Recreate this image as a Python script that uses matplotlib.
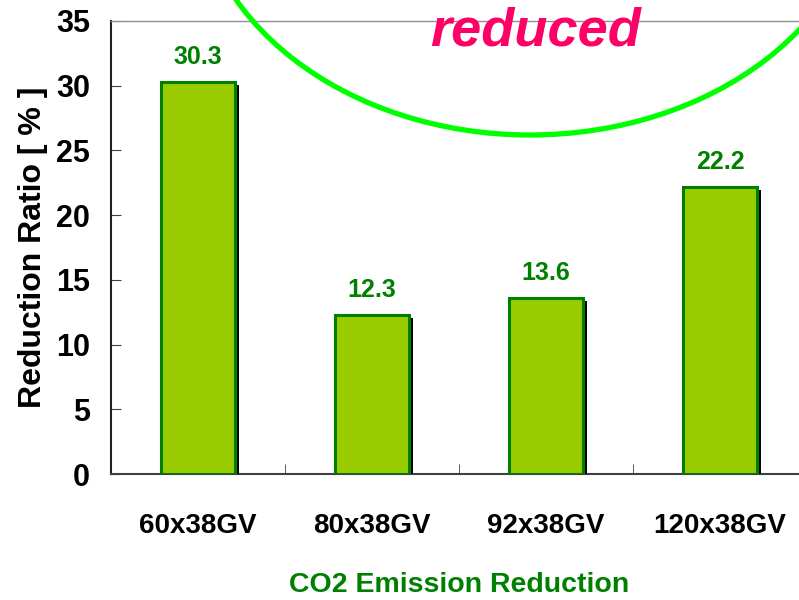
import matplotlib.pyplot as plt
import matplotlib.patheffects as pe
from matplotlib.patches import Ellipse
import numpy as np

plt.rcParams['font.family'] = ['Liberation Sans', 'DejaVu Sans']

categories = ["60x38GV", "80x38GV", "92x38GV", "120x38GV"]
reduction = [30.3, 12.3, 13.6, 22.2]
yticks = [0, 5, 10, 15, 20, 25, 30, 35]

fig = plt.figure(figsize=(7.99, 6), dpi=100)
ax = fig.add_axes([111/799, 126/600, 696/799, 453/600])

x = np.arange(len(categories))
bars = ax.bar(x, reduction, 0.42, color="#99CC00", edgecolor="#008000",
              linewidth=2.2, zorder=3)
for b in bars:
    b.set_path_effects([pe.SimplePatchShadow(offset=(3.5, -2.5), shadow_rgbFace="black", alpha=1),
                        pe.Normal()])

for xi, v in zip(x, reduction):
    ax.annotate(f"{v:.1f}", (xi, v), xytext=(0, 18), textcoords="offset points",
                ha="center", va="center", fontsize=18, fontweight="bold",
                color="#008000")

ax.set_xlim(-0.5, 3.5)
ax.set_ylim(0, 35)
ax.set_yticks(yticks)
ax.set_xticks(x)
ax.set_xticklabels(categories, fontsize=20, fontweight="bold")
ax.set_xticks(x[:-1] + 0.5, minor=True)
ax.tick_params(axis="x", which="major", length=0, pad=28)
ax.tick_params(axis="x", which="minor", direction="in", length=7, color="#404040")
ax.tick_params(axis="y", direction="in", length=7, color="#404040", pad=15,
               labelsize=22)
for lab in ax.get_yticklabels():
    lab.set_fontweight("bold")

ax.spines["top"].set_color("#909090")
ax.spines["top"].set_linewidth(1)
ax.spines["left"].set_color("#202020")
ax.spines["bottom"].set_color("#404040")
ax.spines["left"].set_linewidth(1.5)
ax.spines["bottom"].set_linewidth(1.5)

ax.set_ylabel("Reduction Ratio [ % ]", fontsize=23, fontweight="bold", labelpad=6)
ax.set_xlabel("CO2 Emission Reduction", fontsize=20.5, fontweight="bold",
              color="#008000", labelpad=24)

# highlight ellipse and note drawn on the figure
ell = Ellipse((530/799, 725/600), 670/799, 520/600, transform=fig.transFigure,
              fill=False, edgecolor="#00FF00", linewidth=3.8, clip_on=False, zorder=5)
fig.patches.append(ell)
fig.text(536/799, 1 - 46/600, "reduced", ha="center", va="baseline",
         fontsize=39, fontweight="bold", fontstyle="italic", color="#FF0066")

fig.savefig("out.png", dpi=100)
